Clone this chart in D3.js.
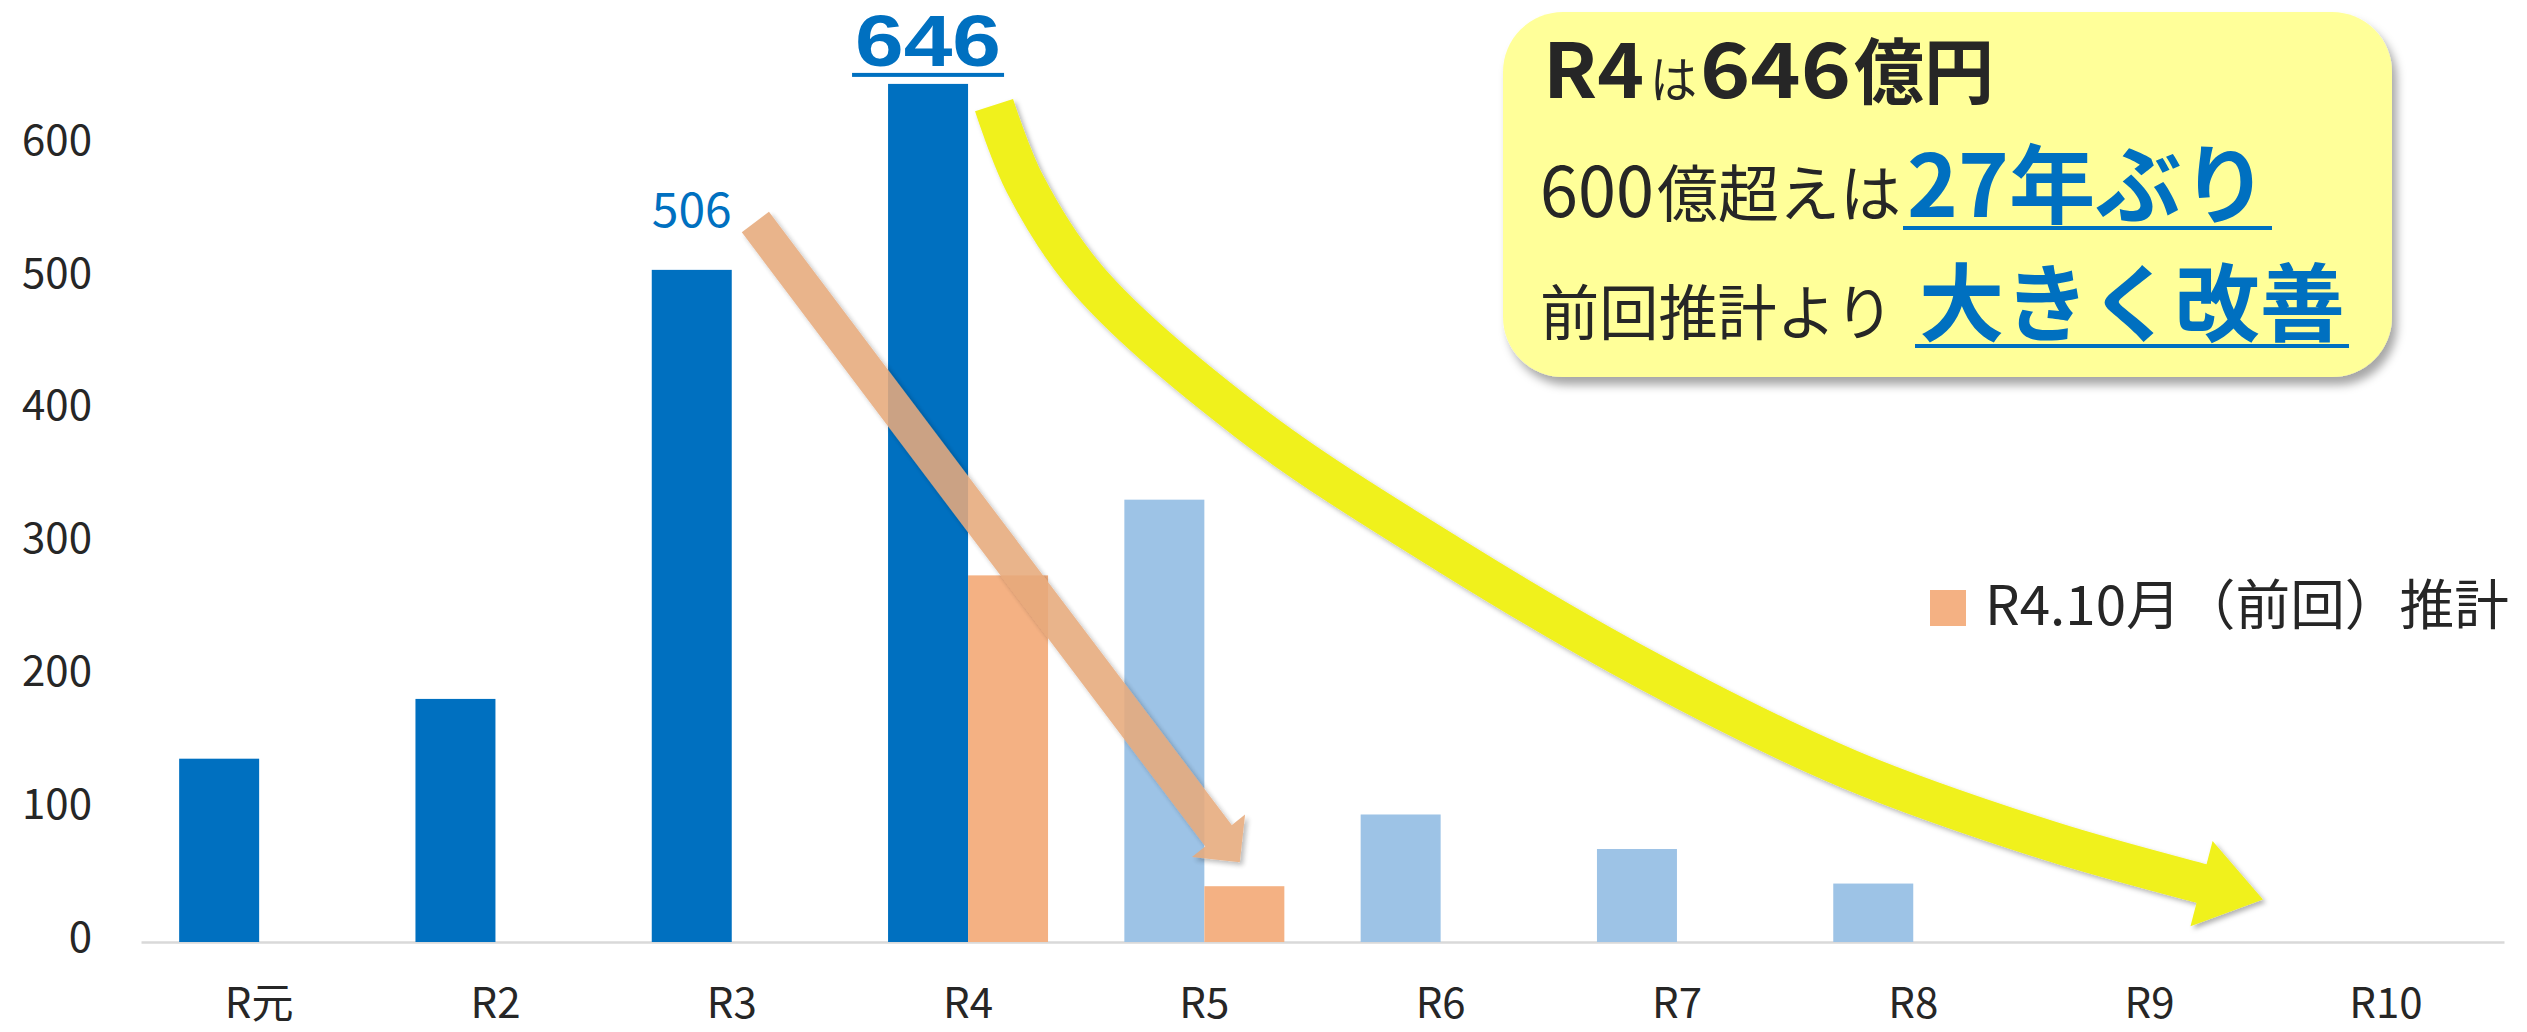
<!DOCTYPE html>
<meta charset="UTF-8">
<script src="https://d3js.org/d3.v7.min.js"></script>
<style>
  body { margin: 0; background: #fff; }
  text { font-family: "Noto Sans CJK JP", "Noto Sans", sans-serif; }
</style>
<div id="chart"></div>
<script>
// ---- data ----
const categories      = ["R元", "R2", "R3", "R4", "R5", "R6", "R7", "R8", "R9", "R10"];
const currentValues   = [138, 183, 506, 646, 333, 96, 70, 44, 0, 0];
const actualCategories = ["R元", "R2", "R3", "R4"];   // the rest are forecasts (light blue)
const previousValues  = [null, null, null, 276, 42, null, null, null, null, null];
const labelledCategories = ["R3", "R4"];
const yTicks = [0, 100, 200, 300, 400, 500, 600];
const legendLabel = "R4.10月（前回）推計";

// annotation arrows, in [category index, value] space
const orangeArrowPath = [[2.10, 542], [4.06, 80]];
const orangeArrowTip  = [4.15, 60];
const yellowArrowPath = [[3.11, 630], [3.24, 571], [3.51, 498], [4.19, 391], [5.04, 291],
                         [5.89, 203], [6.73, 130], [7.58, 76], [8.22, 44]];
const yellowArrowTip  = [8.48, 32];

// callout text runs
const calloutText = [["R4", "は", "646", "億円"], ["600", "億超えは", "27年ぶり"], ["前回推計より", "大きく改善"]];

// ---- setup ----
const W = 2527, H = 1032;
const FONT = '"Noto Sans CJK JP", "Noto Sans", sans-serif';
const DARK = "#262626", BLUE = "#0070C0", LIGHT = "#9DC3E6", ORANGE = "#F4B183";

const svg = d3.select("#chart").append("svg")
    .attr("width", W)
    .attr("height", H);

const defs = svg.append("defs");
function shadow(id, dx, dy, sd, op) {
  defs.append("filter").attr("id", id)
      .attr("x", "-20%").attr("y", "-20%").attr("width", "140%").attr("height", "140%")
    .append("feDropShadow")
      .attr("dx", dx).attr("dy", dy).attr("stdDeviation", sd)
      .attr("flood-color", "#000").attr("flood-opacity", op);
}
shadow("arrowShadow", 3, 3, 2.5, 0.3);
shadow("boxShadow", 5, 8, 5, 0.35);

const x = d3.scaleBand().domain(categories).range([141, 2504]);
const xSub = d3.scaleBand().domain(["current", "previous"])
    .range([0, x.bandwidth()])
    .paddingOuter(0.477);
const y = d3.scaleLinear().domain([0, 600]).range([942, 145]);

const rows = categories.map((c, i) => ({
  cat: c, current: currentValues[i], previous: previousValues[i],
  actual: actualCategories.includes(c)
}));

// ---- axes ----
const xAxis = svg.append("g")
    .attr("transform", "translate(0," + y(0) + ")")
    .call(d3.axisBottom(x).tickSize(0).tickSizeOuter(0).tickPadding(46));
xAxis.attr("font-family", FONT).attr("font-size", 42);
xAxis.select(".domain").attr("stroke", "#D9D9D9").attr("stroke-width", 2.5);
xAxis.selectAll("text").attr("fill", DARK);

const yAxis = svg.append("g")
    .attr("transform", "translate(100,0)")
    .call(d3.axisLeft(y).tickValues(yTicks).tickSize(0).tickPadding(8));
yAxis.attr("font-family", FONT).attr("font-size", 42);
yAxis.select(".domain").remove();
yAxis.selectAll("text").attr("fill", DARK).attr("dy", "0.22em");

// ---- bars ----
svg.append("g")
  .selectAll("rect")
  .data(rows.filter(d => d.current > 0))
  .join("rect")
    .attr("x", d => x(d.cat) + xSub("current"))
    .attr("y", d => y(d.current))
    .attr("width", xSub.bandwidth())
    .attr("height", d => y(0) - y(d.current))
    .attr("fill", d => d.actual ? BLUE : LIGHT);

svg.append("g")
  .selectAll("rect")
  .data(rows.filter(d => d.previous != null))
  .join("rect")
    .attr("x", d => x(d.cat) + xSub("previous"))
    .attr("y", d => y(d.previous))
    .attr("width", xSub.bandwidth())
    .attr("height", d => y(0) - y(d.previous))
    .attr("fill", ORANGE);

// ---- arrows ----
const xi = d3.scaleLinear()
    .domain([0, categories.length - 1])
    .range([x(categories[0]) + x.bandwidth() / 2, x(categories[categories.length - 1]) + x.bandwidth() / 2]);
const toPx = p => [xi(p[0]), y(p[1])];

function drawArrow(g, pts, tip, width, headHalf, color) {
  const px = pts.map(toPx);
  const t = toPx(tip);
  const end = px[px.length - 1];
  const dx = t[0] - end[0], dy = t[1] - end[1], len = Math.hypot(dx, dy);
  const ux = dx / len, uy = dy / len, nx = -uy, ny = ux;
  px.push([end[0] + ux * 6, end[1] + uy * 6]);   // tuck the shaft into the head
  g.append("path")
      .attr("d", d3.line().curve(d3.curveCatmullRom.alpha(0.5))(px))
      .attr("fill", "none")
      .attr("stroke", color)
      .attr("stroke-width", width);
  g.append("path")
      .attr("d", "M" + (end[0] + nx * headHalf) + "," + (end[1] + ny * headHalf) +
                 "L" + t[0] + "," + t[1] +
                 "L" + (end[0] - nx * headHalf) + "," + (end[1] - ny * headHalf) + "Z")
      .attr("fill", color);
}

const orangeG = svg.append("g").attr("opacity", 0.88).attr("filter", "url(#arrowShadow)");
drawArrow(orangeG, orangeArrowPath, orangeArrowTip, 34, 34, "#E7AA7C");

const yellowG = svg.append("g").attr("filter", "url(#arrowShadow)");
drawArrow(yellowG, yellowArrowPath, yellowArrowTip, 40, 44, "#F0F11C");

// ---- data labels ----
rows.filter(d => labelledCategories.includes(d.cat)).forEach(d => {
  const cx = x(d.cat) + xSub("current") + xSub.bandwidth() / 2;
  const big = d.current === d3.max(currentValues);
  const t = svg.append("text")
      .attr("x", cx)
      .attr("y", y(d.current) - (big ? 18 : 43))
      .attr("text-anchor", "middle")
      .attr("fill", BLUE)
      .attr("font-size", big ? 72 : 48)
      .attr("font-weight", big ? "bold" : "normal")
      .text(d.current);
  if (big) {
    t.style("font-family", '"Liberation Sans", sans-serif')
     .attr("textLength", 146).attr("lengthAdjust", "spacingAndGlyphs");
    svg.append("rect")
        .attr("x", cx - 76).attr("y", y(d.current) - 11)
        .attr("width", 152).attr("height", 4)
        .attr("fill", BLUE);
  }
});

// ---- legend ----
svg.append("rect")
    .attr("x", 1930).attr("y", 590)
    .attr("width", 36).attr("height", 36)
    .attr("fill", ORANGE);
svg.append("text")
    .attr("x", 1985).attr("y", 625)
    .attr("font-size", 54)
    .attr("fill", DARK)
    .attr("textLength", 524)
    .attr("lengthAdjust", "spacingAndGlyphs")
    .text(legendLabel);

// ---- callout ----
svg.append("rect")
    .attr("x", 1503).attr("y", 12)
    .attr("width", 889).attr("height", 365)
    .attr("rx", 60).attr("ry", 60)
    .attr("fill", "#FFFF99")
    .attr("filter", "url(#boxShadow)");

// layout per run: [x start, x end, baseline, font size, bold, blue/underlined]
const calloutLayout = [
  [[1543, 1644, 98, 76, true, false], [1650, 1697, 98, 50, false, false],
   [1700, 1851, 98, 76, true, false], [1854, 1994, 98, 72, true, false]],
  [[1540, 1654, 217, 72, false, false], [1657, 1901, 217, 62, false, false],
   [1907, 2268, 217, 86, true, true]],
  [[1540, 1894, 335, 60, false, false], [1919, 2345, 335, 85, true, true]]
];

calloutText.forEach((line, li) => {
  line.forEach((str, ri) => {
    const [x0, x1, by, fs, bold, blue] = calloutLayout[li][ri];
    svg.append("text")
        .attr("x", x0).attr("y", by)
        .attr("font-size", fs)
        .attr("font-weight", bold ? "bold" : "normal")
        .attr("fill", blue ? BLUE : DARK)
        .attr("textLength", x1 - x0)
        .attr("lengthAdjust", "spacingAndGlyphs")
        .text(str);
    if (blue) {
      svg.append("rect")
          .attr("x", x0 - 4).attr("y", by + 9)
          .attr("width", x1 - x0 + 8).attr("height", 4)
          .attr("fill", BLUE);
    }
  });
});
</script>
